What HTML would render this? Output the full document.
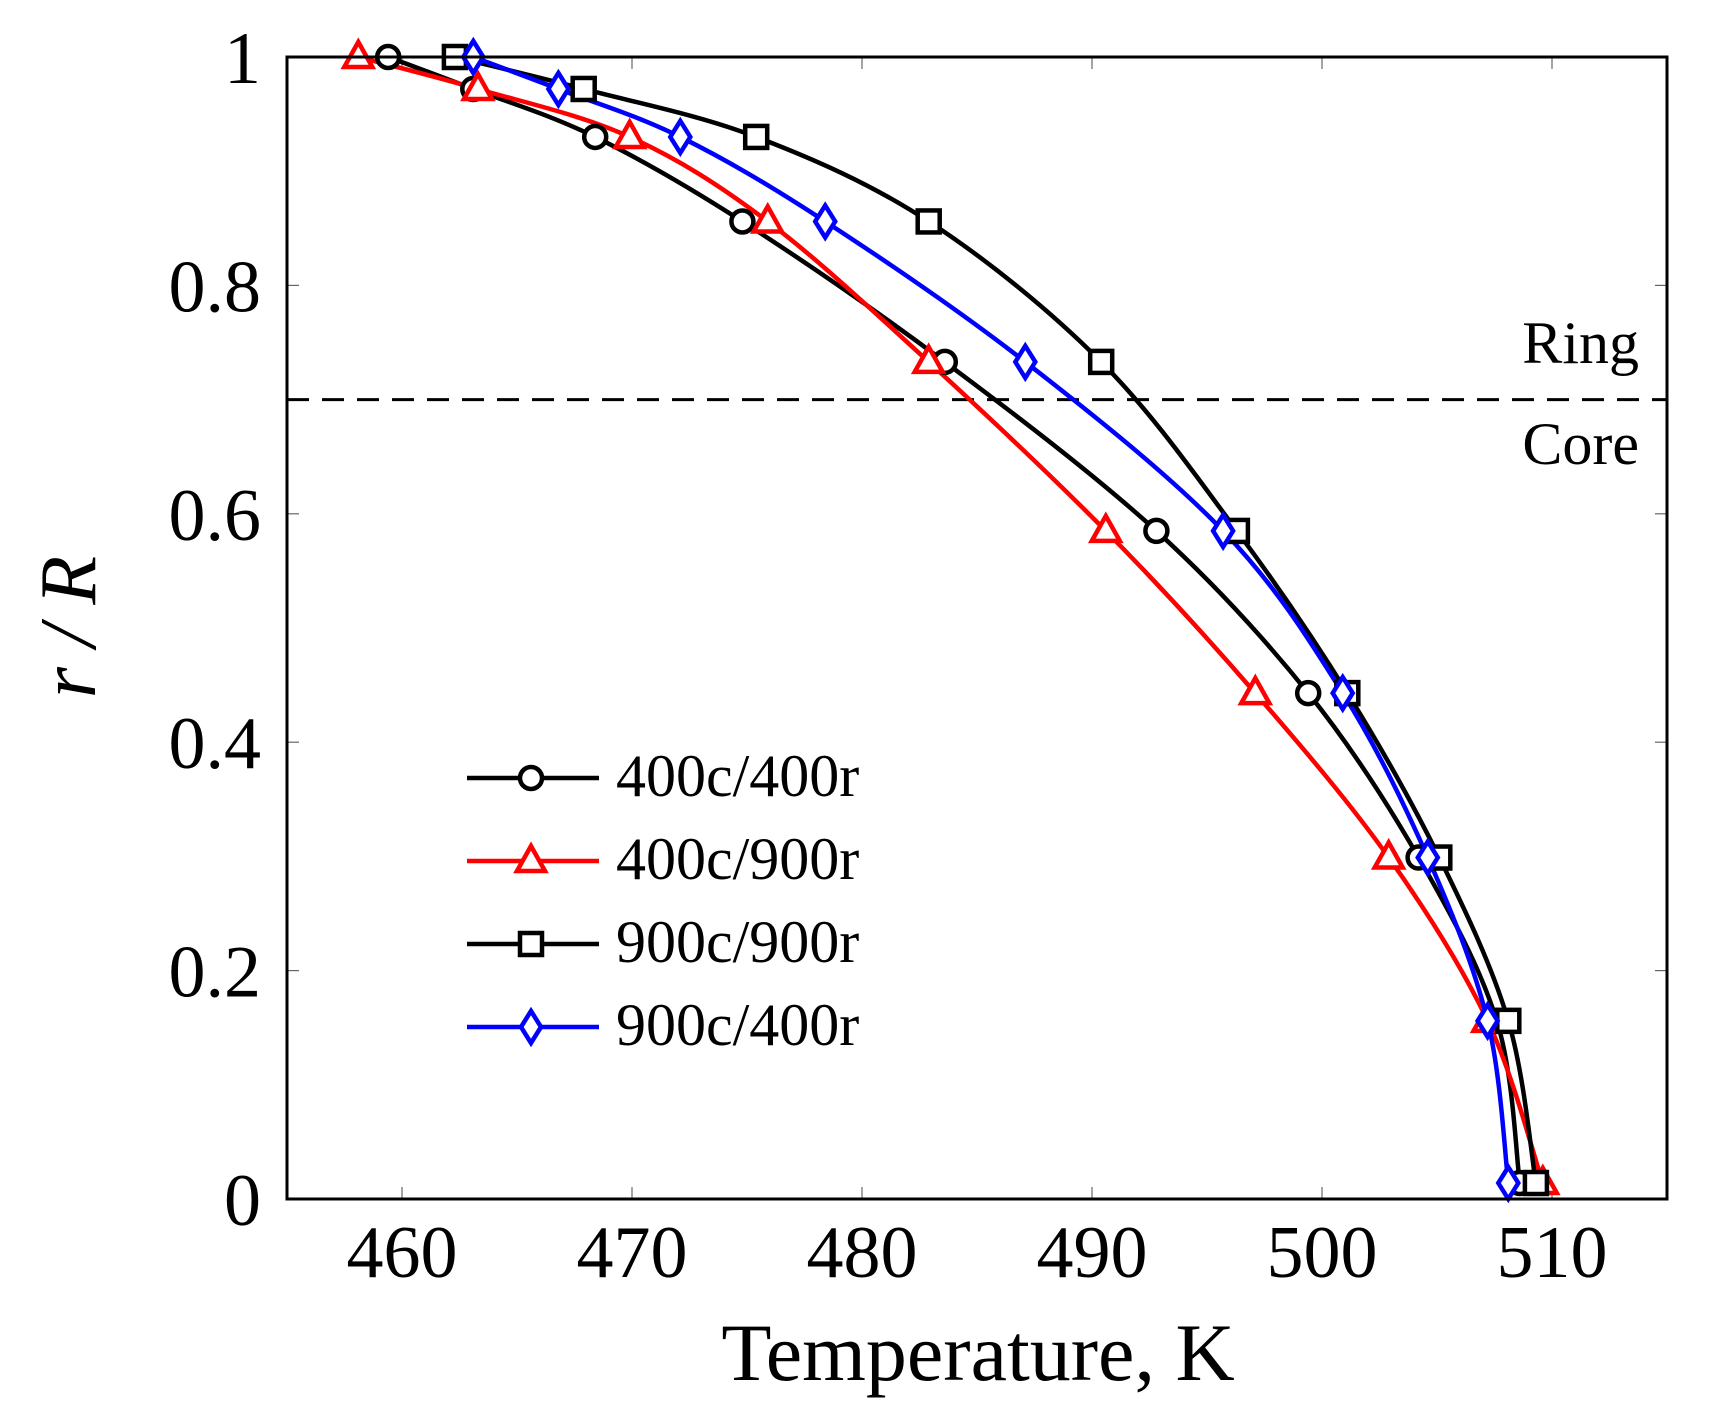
<!DOCTYPE html>
<html><head><meta charset="utf-8"><style>body{margin:0;background:#fff}svg{display:block}text{font-family:"Liberation Serif",serif;fill:#000}</style></head>
<body>
<svg id="s" width="1722" height="1419" viewBox="0 0 1722 1419" xmlns="http://www.w3.org/2000/svg">
<g id="g"></g>
<text x="1639" y="363" font-size="60" text-anchor="end">Ring</text>
<text x="1639" y="464" font-size="60" text-anchor="end">Core</text>
<text x="978" y="1380" font-size="82" text-anchor="middle">Temperature, K</text>
<text transform="translate(95,627) rotate(-90)" font-size="80" text-anchor="middle" font-style="italic">r / R</text>
</svg>
<script>
const X0=287,X1=1667,Y0=1199,Y1=57;
const fx=t=>X0+(t-455)/60*(X1-X0), fy=v=>Y0-v*(Y0-Y1);
let h='';
for(let t=460;t<=510;t+=10){const x=fx(t);h+=`<line x1="${x}" y1="${Y0}" x2="${x}" y2="${Y0-12}" stroke="#666" stroke-width="1.2"/><line x1="${x}" y1="${Y1}" x2="${x}" y2="${Y1+12}" stroke="#666" stroke-width="1.2"/><text x="${x}" y="1277" font-size="74" text-anchor="middle">${t}</text>`;}
[0,0.2,0.4,0.6,0.8,1].forEach(v=>{const y=fy(v);h+=`<line x1="${X0}" y1="${y}" x2="${X0+12}" y2="${y}" stroke="#666" stroke-width="1.2"/><line x1="${X1}" y1="${y}" x2="${X1-12}" y2="${y}" stroke="#666" stroke-width="1.2"/><text x="261" y="${y+26}" font-size="74" text-anchor="end">${v}</text>`;});
h+=`<line x1="${X0}" y1="${fy(0.7)}" x2="${X1}" y2="${fy(0.7)}" stroke="#000" stroke-width="3" stroke-dasharray="22,13"/>`;
const Ys=[1,0.972,0.93,0.856,0.733,0.585,0.443,0.299,0.156,0.014];
const S=[
 {c:'#000',m:'o',t:[459.4,463.1,468.4,474.8,483.6,492.8,499.4,504.2,507.6,508.6]},
 {c:'#f00',m:'t',t:[458.1,463.3,469.9,475.9,482.9,490.6,497.1,502.9,507.2,509.6]},
 {c:'#000',m:'s',t:[462.3,467.9,475.4,482.9,490.4,496.3,501.1,505.1,508.1,509.3]},
 {c:'#00f',m:'d',t:[463.1,466.8,472.1,478.4,487.1,495.7,500.9,504.6,507.2,508.1]}];
function mk(m,x,y,c){
 if(m=='o')return `<circle cx="${x}" cy="${y}" r="11" fill="#fff" stroke="${c}" stroke-width="4.5"/>`;
 if(m=='s')return `<rect x="${x-11}" y="${y-11}" width="22" height="22" fill="#fff" stroke="${c}" stroke-width="4.5"/>`;
 if(m=='t')return `<polygon points="${x},${y-15} ${x+14},${y+10} ${x-14},${y+10}" fill="#fff" stroke="${c}" stroke-width="4.5"/>`;
 return `<polygon points="${x},${y-16} ${x+10},${y} ${x},${y+16} ${x-10},${y}" fill="#fff" stroke="${c}" stroke-width="4.5"/>`;}
S.forEach(s=>{
 const p=s.t.map((t,i)=>[fx(t),fy(Ys[i])]);
 let d=`M${p[0][0]},${p[0][1]}`;
 for(let i=0;i<p.length-1;i++){const a=p[Math.max(i-1,0)],b=p[i],c=p[i+1],e=p[Math.min(i+2,p.length-1)];
  d+=` C${b[0]+(c[0]-a[0])/6},${b[1]+(c[1]-a[1])/6} ${c[0]-(e[0]-b[0])/6},${c[1]-(e[1]-b[1])/6} ${c[0]},${c[1]}`;}
 s.p=p;
 h+=`<path d="${d}" fill="none" stroke="${s.c}" stroke-width="4.5"/>`;});
S.forEach(s=>s.p.forEach(q=>h+=mk(s.m,q[0],q[1],s.c)));
const labs=['400c/400r','400c/900r','900c/900r','900c/400r'];
S.forEach((s,i)=>{const y=778+i*83;h+=`<line x1="467" y1="${y}" x2="599" y2="${y}" stroke="${s.c}" stroke-width="4.5"/>`+mk(s.m,531,y,s.c)+`<text x="616" y="${y+18}" font-size="60">${labs[i]}</text>`;});
h+=`<rect x="${X0}" y="${Y1}" width="${X1-X0}" height="${Y0-Y1}" fill="none" stroke="#000" stroke-width="3"/>`;
document.getElementById('g').innerHTML=h;
</script>
</body></html>
